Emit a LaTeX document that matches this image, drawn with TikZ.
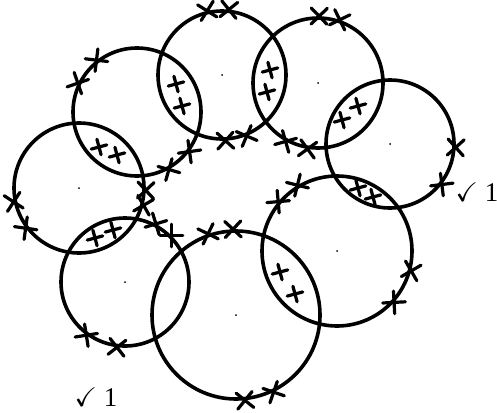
\documentclass[tikz,border=0pt]{standalone}
\usepackage{amssymb}
\usepackage{fontspec}
\setmainfont{Liberation Serif}
\tikzset{
    ring/.style={circle, draw=black, line width=1.8pt, inner sep=0pt},
    xmark/.style={line width=1.6pt, line cap=round},
    onring/.pic={\draw[xmark] (-8,-8) -- (8,8) (-8,8) -- (8,-8);},
    inlens/.pic={\draw[xmark] (-8,0) -- (8,0) (0,-8) -- (0,8);},
    note/.style={font=\fontsize{13.5}{16}\selectfont, inner sep=0pt}
}
\begin{document}
\begin{tikzpicture}[x=0.5pt,y=-0.5pt]
\useasboundingbox (0,0) rectangle (497,412);
\node[ring, minimum size=65pt] (c0) at (79,188)  {};
\node[ring, minimum size=64pt] (c1) at (137,112) {};
\node[ring, minimum size=64pt] (c2) at (222,75)  {};
\node[ring, minimum size=65pt] (c3) at (318,83)  {};
\node[ring, minimum size=64pt] (c4) at (390,144) {};
\node[ring, minimum size=75pt] (c7) at (337,251) {};
\node[ring, minimum size=84pt] (c6) at (236,315) {};
\node[ring, minimum size=64pt] (c5) at (125,282) {};
\foreach \c in {c0,c2,c3,c4,c5,c6,c7}
    \fill (\c.center) circle (1);
\foreach \c/\a in {c0/192, c0/217, c0/-2, c0/-15,
                   c1/128, c1/154, c1/-37, c1/-61,
                   c2/103, c2/84, c2/-87, c2/-68,
                   c3/89, c3/71, c3/-119, c3/-99,
                   c4/-3, c4/-38,
                   c5/62, c5/45, c5/234, c5/-97,
                   c6/109, c6/92, c6/-84, c6/-64,
                   c7/121, c7/140, c7/-15, c7/-42}
    \pic[rotate=\a] at (\c.\a) {onring};
\foreach \x/\y in {99/147, 117/155, 176/84, 182/106, 270/70, 267/92,
                   358/106, 342/120, 358/188, 373/197, 280/272, 295/294,
                   95/238, 113/230}
    \pic[rotate=15] at (\x,\y) {inlens};
\node[note] (tick1) at (477,192) {$\checkmark$ 1};
\node[note] (tick2) at (96,397) {$\checkmark$ 1};
\end{tikzpicture}
\end{document}
